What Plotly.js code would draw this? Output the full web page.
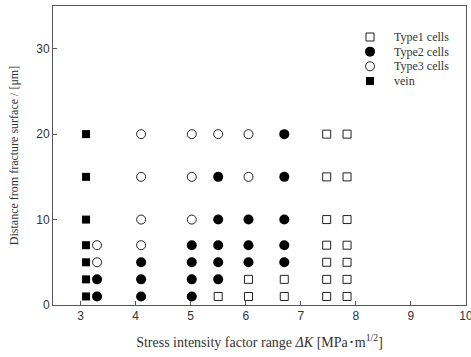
<!DOCTYPE html>
<html><head><meta charset="utf-8">
<script src="https://cdn.plot.ly/plotly-3.0.1.min.js"></script>
<style>html,body{margin:0;padding:0;background:#fff}#c{width:471px;height:357px}</style>
</head><body><div id="c"></div>
<script>
const type1X = [5.5, 6.05, 6.05, 6.7, 6.7, 7.47, 7.47, 7.47, 7.47, 7.47, 7.47, 7.47, 7.84, 7.84, 7.84, 7.84, 7.84, 7.84, 7.84];
const type1Y = [1, 1, 3, 1, 3, 1, 3, 5, 7, 10, 15, 20, 1, 3, 5, 7, 10, 15, 20];
const type2X = [3.3, 3.3, 4.1, 4.1, 4.1, 5.02, 5.02, 5.02, 5.02, 5.5, 5.5, 5.5, 5.5, 5.5, 6.05, 6.05, 6.05, 6.7, 6.7, 6.7, 6.7, 6.7];
const type2Y = [1, 3, 1, 3, 5, 1, 3, 5, 7, 3, 5, 7, 10, 15, 5, 7, 10, 5, 7, 10, 15, 20];
const type3X = [3.3, 3.3, 4.1, 4.1, 4.1, 4.1, 5.02, 5.02, 5.02, 5.5, 6.05, 6.05];
const type3Y = [5, 7, 7, 10, 15, 20, 10, 15, 20, 20, 15, 20];
const veinX = [3.1, 3.1, 3.1, 3.1, 3.1, 3.1, 3.1];
const veinY = [1, 3, 5, 7, 10, 15, 20];
const xTicks = [3, 4, 5, 6, 7, 8, 9, 10];
const yTicks = [0, 10, 20, 30];
const legendNames = ['Type1 cells', 'Type2 cells', 'Type3 cells', 'vein'];

const serif = 'Liberation Serif, Times New Roman, serif';
const sans = 'Liberation Sans, Arial, sans-serif';
const traces = [
  {x: type1X, y: type1Y, name: legendNames[0], mode: 'markers', type: 'scatter',
   marker: {symbol: 'square-open', size: 8, color: '#222', line: {width: 1, color: '#222'}}},
  {x: type2X, y: type2Y, name: legendNames[1], mode: 'markers', type: 'scatter',
   marker: {symbol: 'circle', size: 10, color: '#000', line: {width: 0}}},
  {x: type3X, y: type3Y, name: legendNames[2], mode: 'markers', type: 'scatter',
   marker: {symbol: 'circle-open', size: 9, color: '#222', line: {width: 1, color: '#222'}}},
  {x: veinX, y: veinY, name: legendNames[3], mode: 'markers', type: 'scatter',
   marker: {symbol: 'square', size: 8, color: '#000', line: {width: 0}}}
];

// Hand-built compact legend (symbols as pixel-sized shapes, labels as annotations)
const legX = 0.7676, legTextX = 0.8208, legY0 = 0.8963, legStep = 0.0490;
const legendStyles = [
  {type: 'rect', fill: 'rgba(0,0,0,0)', r: 4},
  {type: 'circle', fill: '#000', r: 5},
  {type: 'circle', fill: 'rgba(0,0,0,0)', r: 4.5},
  {type: 'rect', fill: '#000', r: 4}
];
const shapes = legendStyles.map((s, i) => ({
  type: s.type, xref: 'paper', yref: 'paper', xsizemode: 'pixel', ysizemode: 'pixel',
  xanchor: legX, yanchor: legY0 - i * legStep, x0: -s.r, x1: s.r, y0: -s.r, y1: s.r,
  fillcolor: s.fill, line: {color: s.fill === '#000' ? '#000' : '#222', width: s.fill === '#000' ? 0 : 1}
}));
const annotations = legendNames.map((n, i) => ({
  text: n, xref: 'paper', yref: 'paper', x: legTextX, y: legY0 - i * legStep,
  xanchor: 'left', yanchor: 'middle', showarrow: false,
  font: {family: serif, size: 12, color: '#333'}
}));

const layout = {
  width: 471, height: 357,
  margin: {l: 53, r: 5, t: 6, b: 52},
  paper_bgcolor: '#fff', plot_bgcolor: '#fff',
  showlegend: false,
  shapes: shapes, annotations: annotations,
  xaxis: {range: [2.5, 10], tickvals: xTicks, ticktext: xTicks.map(String),
          ticks: 'inside', ticklen: 4, tickcolor: '#555', showgrid: false, zeroline: false,
          showline: true, linecolor: '#555', linewidth: 1, mirror: true,
          ticklabeloverflow: 'allow',
          tickfont: {family: sans, size: 12, color: '#333'},
          title: {text: 'Stress intensity factor range <i>ΔK</i> [MPa･m<sup>1/2</sup>]',
                  font: {family: serif, size: 14, color: '#333'}, standoff: 14}},
  yaxis: {range: [0, 35], tickvals: yTicks, ticktext: yTicks.map(String),
          ticks: 'inside', ticklen: 4, tickcolor: '#555', showgrid: false, zeroline: false,
          showline: true, linecolor: '#555', linewidth: 1, mirror: true,
          tickfont: {family: sans, size: 12, color: '#333'},
          title: {text: 'Distance from fracture surface / [μm]',
                  font: {family: serif, size: 12, color: '#333'}, standoff: 15}}
};
Plotly.newPlot('c', traces, layout, {staticPlot: true, displayModeBar: false});
</script></body></html>
